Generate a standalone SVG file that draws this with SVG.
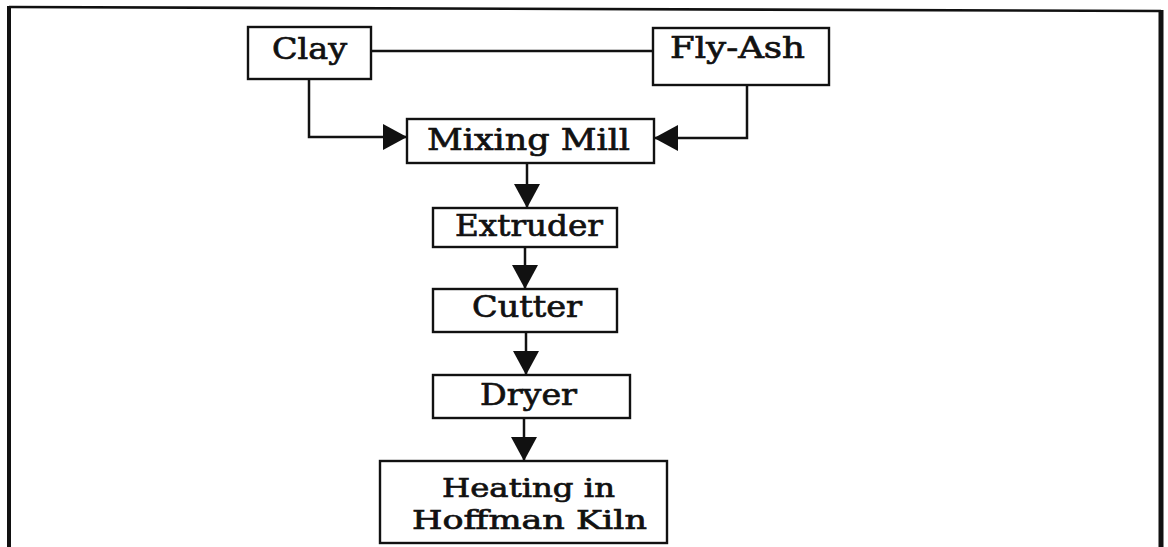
<svg xmlns="http://www.w3.org/2000/svg" width="1168" height="547" viewBox="0 0 1168 547">
  <style>
    .box { fill: #ffffff; stroke: #111111; stroke-width: 2.4; }
    .lbl { font-family: "DejaVu Serif", "Liberation Serif", serif; font-size: 30px; fill: #111111; text-anchor: middle; stroke: #111111; stroke-width: 0.7; }
    .sm { font-size: 26px; }
    .conn { fill: none; stroke: #111111; stroke-width: 2.5; }
    .frame { fill: none; stroke: #111111; }
  </style>
  <defs>
    <marker id="arrow" viewBox="0 0 24 26" refX="24" refY="13" markerWidth="24" markerHeight="26" markerUnits="userSpaceOnUse" orient="auto">
      <path d="M0,0 L24,13 L0,26 Z" fill="#111111"/>
    </marker>
  </defs>
  <rect x="0" y="0" width="1168" height="547" fill="#ffffff"/>
  <g id="frame">
    <path class="frame" d="M9,7 L1161,11" stroke-width="2.6"/>
    <path class="frame" d="M9,6 L9,560" stroke-width="4"/>
    <path class="frame" d="M1161,10 L1161,560" stroke-width="5"/>
  </g>
  <g id="connectors">
    <path class="conn" d="M371,51 L653,51"/>
    <path class="conn" d="M309,79 L309,137 L407,137" marker-end="url(#arrow)"/>
    <path class="conn" d="M747,85 L747,138 L654,138" marker-end="url(#arrow)"/>
    <path class="conn" d="M527,163 L527,208" marker-end="url(#arrow)"/>
    <path class="conn" d="M525,247 L525,289" marker-end="url(#arrow)"/>
    <path class="conn" d="M526,332 L526,375" marker-end="url(#arrow)"/>
    <path class="conn" d="M524,418 L524,461" marker-end="url(#arrow)"/>
  </g>
  <g id="clay">
    <rect class="box" x="248" y="27" width="123" height="52"/>
    <text class="lbl" x="309.5" y="59" textLength="75" lengthAdjust="spacingAndGlyphs">Clay</text>
  </g>
  <g id="fly-ash">
    <rect class="box" x="653" y="28" width="176" height="57"/>
    <text class="lbl" x="737.5" y="58" textLength="135" lengthAdjust="spacingAndGlyphs">Fly-Ash</text>
  </g>
  <g id="mixing-mill">
    <rect class="box" x="407" y="119" width="247" height="44"/>
    <text class="lbl" x="528.5" y="150" textLength="203" lengthAdjust="spacingAndGlyphs">Mixing Mill</text>
  </g>
  <g id="extruder">
    <rect class="box" x="433" y="208" width="184" height="39"/>
    <text class="lbl" x="529" y="236" textLength="148" lengthAdjust="spacingAndGlyphs">Extruder</text>
  </g>
  <g id="cutter">
    <rect class="box" x="433" y="289" width="184" height="43"/>
    <text class="lbl" x="527" y="317" textLength="110" lengthAdjust="spacingAndGlyphs">Cutter</text>
  </g>
  <g id="dryer">
    <rect class="box" x="433" y="375" width="197" height="43"/>
    <text class="lbl" x="528.5" y="405" textLength="97" lengthAdjust="spacingAndGlyphs">Dryer</text>
  </g>
  <g id="heating">
    <rect class="box" x="380" y="461" width="287" height="82"/>
    <text class="lbl sm" x="528.5" y="497" textLength="173" lengthAdjust="spacingAndGlyphs">Heating in</text>
    <text class="lbl sm" x="529.5" y="529" textLength="235" lengthAdjust="spacingAndGlyphs">Hoffman Kiln</text>
  </g>
</svg>
